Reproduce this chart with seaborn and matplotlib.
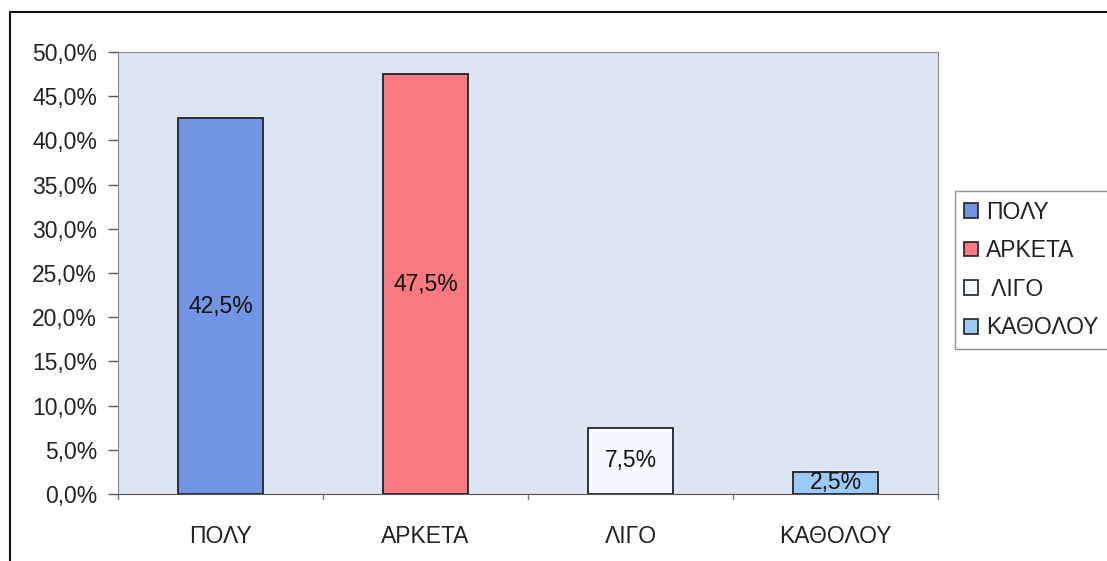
import matplotlib
matplotlib.use("Agg")
import matplotlib.pyplot as plt
import seaborn as sns
import pandas as pd
from matplotlib.patches import Patch
from matplotlib.ticker import FuncFormatter

# Données
categories = ["ΠΟΛΥ", "ΑΡΚΕΤΑ", "ΛΙΓΟ", "ΚΑΘΟΛΟΥ"]
values = [42.5, 47.5, 7.5, 2.5]
legend_labels = ["ΠΟΛΥ", "ΑΡΚΕΤΑ", " ΛΙΓΟ", "ΚΑΘΟΛΟΥ"]
colors = ["#7393E3", "#F87A80", "#F4F9FF", "#9DC9F2"]
y_ticks = [0, 5, 10, 15, 20, 25, 30, 35, 40, 45, 50]

df = pd.DataFrame({"cat": categories, "val": values})

sns.set_style("white")
plt.rcParams['font.family'] = ['Liberation Sans', 'DejaVu Sans']
FS = 16.5

fig = plt.figure(figsize=(11.07, 5.61), dpi=100)
ax = fig.add_axes([118 / 1107, 67 / 561, 820 / 1107, 442 / 561])
ax.set_facecolor("#DDE5F3")

sns.barplot(data=df, x="cat", y="val", hue="cat", palette=colors, order=categories,
            hue_order=categories, width=0.41, edgecolor="#222222", linewidth=1.3,
            saturation=1, dodge=False, legend=False, ax=ax)

ax.set_xlim(-0.5, 3.5)
ax.set_ylim(0, 50)
ax.set_yticks(y_ticks)
ax.yaxis.set_major_formatter(FuncFormatter(lambda v, p: f"{v:.1f}%".replace(".", ",")))
ax.set_xlabel("")
ax.set_ylabel("")

# Étiquettes des barres
for i, v in enumerate(values):
    ax.text(i, v / 2, f"{v:.1f}%".replace(".", ","), ha="center", va="center",
            fontsize=FS, color="#111111")

for s in ["top", "left", "right"]:
    ax.spines[s].set_visible(True)
    ax.spines[s].set_color("#888888")
ax.spines["bottom"].set_color("#555555")

ax.tick_params(axis="y", direction="out", length=7, width=1, color="#555555",
               labelsize=FS, pad=8, left=True, labelcolor="#222222")
ax.set_xticks(range(len(categories)))
ax.set_xticklabels(categories, fontsize=FS, color="#222222")
ax.tick_params(axis="x", length=0, pad=22)
for xb in [-0.5, 0.5, 1.5, 2.5, 3.5]:
    ax.plot([xb, xb], [0, -0.012], transform=ax.get_xaxis_transform(),
            color="#777777", lw=1, clip_on=False)

# Légende
handles = [Patch(facecolor=c, edgecolor="#222222", linewidth=1.2) for c in colors]
leg = fig.legend(handles, legend_labels, loc="center left",
                 bbox_to_anchor=(955 / 1107, 1 - 270 / 561), frameon=True,
                 fancybox=False, edgecolor="#777777", fontsize=FS,
                 handlelength=0.6, handleheight=0.6, handletextpad=0.35,
                 labelspacing=0.68, borderpad=0.4, borderaxespad=0)
leg.get_frame().set_linewidth(1)
for t in leg.get_texts():
    t.set_color("#222222")

# Cadre extérieur
fig.add_artist(plt.Line2D([10 / 1107, 10 / 1107], [0, 1 - 12 / 561],
                          transform=fig.transFigure, color="#111111", lw=1.5))
fig.add_artist(plt.Line2D([10 / 1107, 1], [1 - 12 / 561, 1 - 12 / 561],
                          transform=fig.transFigure, color="#111111", lw=1.5))

fig.savefig("out.png", dpi=100)
